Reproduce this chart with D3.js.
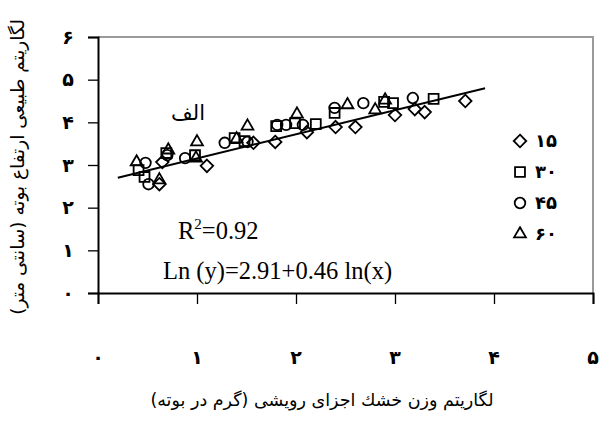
<!DOCTYPE html>
<html><head><meta charset="utf-8">
<script src="https://cdn.jsdelivr.net/npm/d3@7"></script>
<style>html,body{margin:0;padding:0;background:#fff;}svg{display:block;}</style>
</head><body>
<svg id="c" width="604" height="428"></svg>
<script>
// ---- data ----
const xTicks = [0,1,2,3,4,5];
const yTicks = [0,1,2,3,4,5,6];
const faDigits = ["۰","۱","۲","۳","۴","۵","۶","۷","۸","۹"];
const seriesNames = ["۱۵","۳۰","۴۵","۶۰"];
const s15 = [[0.62,2.55],[0.65,3.07],[1.10,2.98],[1.57,3.52],[1.79,3.54],[2.11,3.77],[2.40,3.89],[2.60,3.89],[3.00,4.17],[3.20,4.31],[3.30,4.24],[3.71,4.50]];
const s30 = [[0.41,2.88],[0.47,2.72],[0.69,3.28],[0.98,3.23],[1.38,3.63],[1.48,3.56],[1.80,3.91],[1.99,3.98],[2.20,3.96],[2.39,4.22],[2.89,4.48],[2.98,4.45],[3.39,4.55]];
const s45 = [[0.48,3.05],[0.51,2.55],[0.70,3.23],[0.88,3.16],[1.28,3.52],[1.51,3.54],[1.81,3.94],[1.90,3.94],[2.07,3.94],[2.39,4.34],[2.68,4.45],[3.18,4.57]];
const s60 = [[0.39,3.07],[0.62,2.65],[0.71,3.35],[1.00,3.54],[0.99,3.16],[1.40,3.61],[1.51,3.91],[2.01,4.19],[2.52,4.41],[2.80,4.29],[2.90,4.52]];
const trend = [[0.20,2.70],[3.91,4.80]];
const xTitle = "لگاریتم وزن خشك اجزای رویشی (گرم در بوته)";
const yTitle = "لگاریتم طبیعی ارتفاع بوته (سانتی متر)";
const panelLabel = "الف";

const toFa = n => String(n).split("").map(c => /\d/.test(c) ? faDigits[+c] : c).join("");

const svg = d3.select("#c");
const x = d3.scaleLinear().domain([0,5]).range([98,593]);
const y = d3.scaleLinear().domain([0,6]).range([293,37]);
const faFont = "'DejaVu Sans', 'Noto Sans', sans-serif";
const serif = "'Liberation Serif', 'DejaVu Serif', serif";

// plot frame (top/right gray)
svg.append("path")
  .attr("d", `M${x(0)},${y(6)}H${x(5)}V${y(0)}`)
  .attr("fill","none").attr("stroke","#9a9a9a").attr("stroke-width",2);

// axes
const yAxis = d3.axisLeft(y).tickValues(yTicks).tickSize(10).tickFormat("");
const gy = svg.append("g").attr("transform",`translate(${x(0)},0)`).call(yAxis);
const xAxis = d3.axisBottom(x).tickValues(xTicks).tickSize(11).tickFormat("");
const gx = svg.append("g").attr("transform",`translate(0,${y(0)})`).call(xAxis);
[gx,gy].forEach(g=>{
  g.select(".domain").attr("stroke","#000").attr("stroke-width",2);
  g.selectAll(".tick line").attr("stroke","#000").attr("stroke-width",1.3);
});

// tick labels
svg.append("g").selectAll("text").data(yTicks).join("text")
  .attr("x",68).attr("y",d=>y(d)).attr("dy","0.35em")
  .attr("text-anchor","middle").attr("font-family",faFont).attr("font-size",19).attr("font-weight","bold")
  .text(d=>toFa(d));
svg.append("g").selectAll("text").data(xTicks).join("text")
  .attr("x",d=>x(d)).attr("y",357).attr("dy","0.35em")
  .attr("text-anchor","middle").attr("font-family",faFont).attr("font-size",19).attr("font-weight","bold")
  .text(d=>toFa(d));

// titles
svg.append("text").attr("x",322).attr("y",400).attr("dy","0.35em")
  .attr("text-anchor","middle").attr("font-family",faFont).attr("font-size",17.5)
  .attr("direction","rtl").text(xTitle);
svg.append("text").attr("transform","translate(18,167) rotate(-90)").attr("dy","0.35em")
  .attr("text-anchor","middle").attr("font-family",faFont).attr("font-size",18.5)
  .attr("direction","rtl").text(yTitle);

// trend line
svg.append("path").datum(trend)
  .attr("d", d3.line().x(d=>x(d[0])).y(d=>y(d[1])))
  .attr("stroke","#000").attr("stroke-width",2).attr("fill","none");

// markers
const sym = {
  diamond: d3.symbol().type(d3.symbolDiamond2).size(100)(),
  square: d3.symbol().type(d3.symbolSquare2).size(125)(),
  circle: d3.symbol().type(d3.symbolCircle).size(88)(),
  triangle: d3.symbol().type(d3.symbolTriangle2).size(100)()
};
const series = [
  {data:s15, shape:"diamond"},
  {data:s30, shape:"square"},
  {data:s45, shape:"circle"},
  {data:s60, shape:"triangle"}
];
series.forEach(s=>{
  svg.append("g").selectAll("path").data(s.data).join("path")
    .attr("transform",d=>`translate(${x(d[0])},${y(d[1])})`)
    .attr("d",sym[s.shape]).attr("fill","none")
    .attr("stroke","#000").attr("stroke-width",1.8);
});

// legend
const lg = svg.append("g");
series.forEach((s,i)=>{
  const yy = 141 + i*31;
  lg.append("path").attr("transform",`translate(520,${yy})`).attr("d",sym[s.shape])
    .attr("fill","none").attr("stroke","#000").attr("stroke-width",1.8);
  lg.append("text").attr("x",535).attr("y",yy).attr("dy","0.35em")
    .attr("font-family",faFont).attr("font-size",18).attr("font-weight","bold")
    .text(seriesNames[i]);
});

// annotations
svg.append("text").attr("x",188).attr("y",113).attr("dy","0.35em")
  .attr("text-anchor","middle").attr("font-family",faFont).attr("font-size",21)
  .text(panelLabel);
const r2 = svg.append("text").attr("x",178).attr("y",239)
  .attr("font-family",serif).attr("font-size",24.5);
r2.append("tspan").text("R");
r2.append("tspan").attr("dy",-10).attr("font-size",15).text("2");
r2.append("tspan").attr("dy",10).text("=0.92");
svg.append("text").attr("x",163).attr("y",279)
  .attr("font-family",serif).attr("font-size",24.5)
  .text("Ln (y)=2.91+0.46 ln(x)");
</script>
</body></html>
